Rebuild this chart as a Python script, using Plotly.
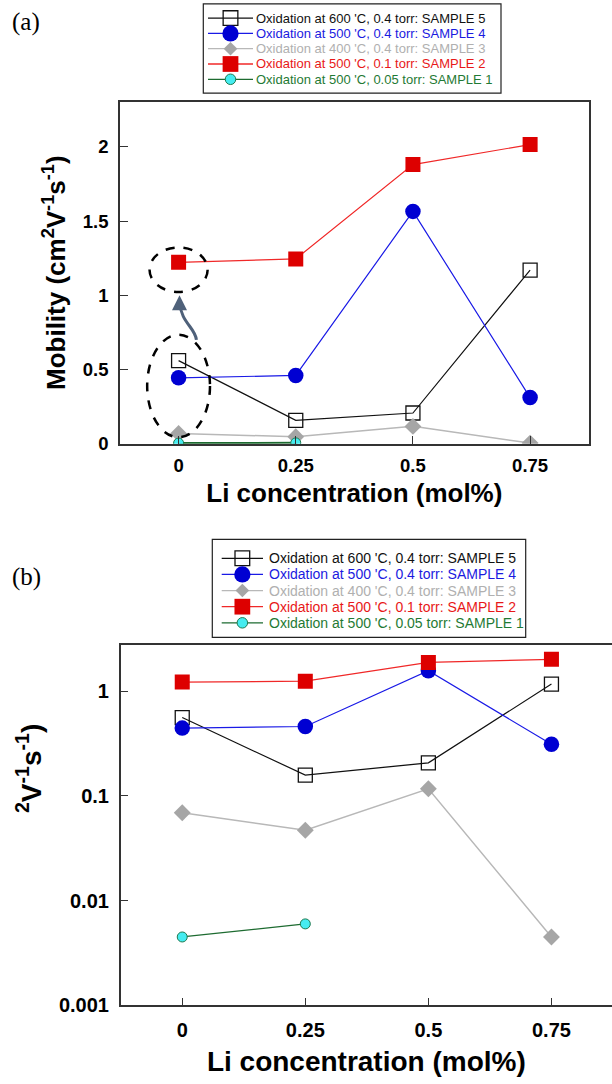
import plotly.graph_objects as go

# ---------------- data ----------------
li = [0, 0.25, 0.5, 0.75]
li_s1 = [0, 0.25]
x_ticktext = ["0", "0.25", "0.5", "0.75"]

s5 = [0.56, 0.158, 0.207, 1.17]     # 600 'C, 0.4 torr
s4 = [0.444, 0.46, 1.565, 0.311]    # 500 'C, 0.4 torr
s3 = [0.069, 0.047, 0.117, 0.0045]  # 400 'C, 0.4 torr
s2 = [1.222, 1.245, 1.88, 2.015]    # 500 'C, 0.1 torr
s1 = [0.0045, 0.006]                # 500 'C, 0.05 torr

names = [
    "Oxidation at 600 'C, 0.4 torr: SAMPLE 5",
    "Oxidation at 500 'C, 0.4 torr: SAMPLE 4",
    "Oxidation at 400 'C, 0.4 torr: SAMPLE 3",
    "Oxidation at 500 'C, 0.1 torr: SAMPLE 2",
    "Oxidation at 500 'C, 0.05 torr: SAMPLE 1",
]
ya_ticks = [0, 0.5, 1, 1.5, 2]
ya_ticktext = ["0", "0.5", "1", "1.5", "2"]
yb_ticks = [0.001, 0.01, 0.1, 1]
yb_ticktext = ["0.001", "0.01", "0.1", "1"]

text_colors = ["#111111", "#1a1ae0", "#b0b0b0", "#e81818", "#1f7a34"]
line_colors = ["#111111", "#1a1ae6", "#b8b8b8", "#f02828", "#1d6b30"]
marker_colors = ["#111111", "#0000d2", "#a6a6a6", "#dd0000", "#45ecf0"]
marker_symbols = ["square-open", "circle", "diamond", "square", "circle"]
marker_sizes = [14, 15.5, 13, 15, 10]
line_widths = [1.2, 1.2, 1.5, 1.2, 2.0]

series_x = [li, li, li, li, li_s1]
series_y = [s5, s4, s3, s2, s1]

W, H = 612, 1084
fig = go.Figure()
for panel, (xa, ya) in enumerate([("x", "y"), ("x2", "y2")]):
    for i in range(5):
        lw = line_widths[i]
        if panel == 1 and i == 4:
            lw = 1.3
        mline = dict(width=0)
        if i == 0:
            mline = dict(width=1.3, color="#111111")
        if i == 4:
            mline = dict(width=1, color="#1f7a50")
        fig.add_trace(go.Scatter(
            x=series_x[i], y=series_y[i], mode="lines+markers", name=names[i],
            line=dict(color=line_colors[i], width=lw),
            marker=dict(symbol=marker_symbols[i], size=marker_sizes[i],
                        color=marker_colors[i], line=mline),
            xaxis=xa, yaxis=ya, showlegend=False,
        ))

axis_line = dict(showline=True, linecolor="#333333", linewidth=1.5, showgrid=False,
                 zeroline=False, ticks="inside", ticklen=8, tickcolor="#333333", tickwidth=1.2)
bold = dict(family="Arial, Liberation Sans, sans-serif", color="black", weight="bold")

fig.update_layout(
    width=W, height=H, margin=dict(l=0, r=0, t=0, b=0),
    paper_bgcolor="white", plot_bgcolor="white", showlegend=False,
    font=dict(family="Arial, Liberation Sans, sans-serif", color="black"),
    xaxis=dict(domain=[120 / W, 588.7 / W], range=[-0.125, 0.875], anchor="y",
               tickvals=li, ticktext=x_ticktext, mirror=True,
               tickfont=dict(size=18.5, **bold), ticklabelstandoff=4,
               title=dict(text="Li concentration (mol%)", font=dict(size=26, **bold), standoff=9),
               **axis_line),
    yaxis=dict(domain=[1 - 448.3 / H, 1 - 102.7 / H], range=[0, 2.304], anchor="x",
               tickvals=ya_ticks, ticktext=ya_ticktext, mirror=True,
               tickfont=dict(size=18.5, **bold), ticklabelstandoff=6,
               title=dict(text="Mobility (cm<sup>2</sup>V<sup>-1</sup>s<sup>-1</sup>)",
                          font=dict(size=26, **bold), standoff=10),
               **axis_line),
    xaxis2=dict(domain=[120.7 / W, 1.0], range=[-0.125, 0.873], anchor="y2",
                tickvals=li, ticktext=x_ticktext, mirror=True,
                tickfont=dict(size=20, **bold), ticklabelstandoff=6,
                title=dict(text="Li concentration (mol%)", font=dict(size=28, **bold), standoff=11),
                **axis_line),
    yaxis2=dict(domain=[1 - 1015.7 / H, 1 - 651.7 / H], type="log", range=[-3, 0.44], anchor="x2",
                tickvals=yb_ticks, ticktext=yb_ticktext, mirror=False,
                tickfont=dict(size=20, **bold), ticklabelstandoff=6,
                **axis_line),
)


def px(x):
    return x / W


def py(y):
    return 1 - y / H


def legend_block(box, y_first, dy, lx0, lx1, tx, fsize, mscale):
    x0, x1, y0, y1 = box
    fig.add_shape(type="rect", xref="paper", yref="paper", x0=px(x0), x1=px(x1),
                  y0=py(y1), y1=py(y0), line=dict(color="#222222", width=1.2),
                  fillcolor="white", layer="above")
    mx = (lx0 + lx1) / 2
    for i in range(5):
        yy = y_first + i * dy
        fig.add_shape(type="line", xref="paper", yref="paper", x0=px(lx0), x1=px(lx1),
                      y0=py(yy), y1=py(yy), line=dict(color=line_colors[i], width=1.3),
                      layer="above")
        s = marker_sizes[i] * mscale / 2
        common = dict(xref="paper", yref="paper", xsizemode="pixel", ysizemode="pixel",
                      xanchor=px(mx), yanchor=py(yy), layer="above")
        sym = marker_symbols[i]
        if sym == "square-open":
            fig.add_shape(type="rect", x0=-s, x1=s, y0=-s, y1=s, fillcolor="rgba(0,0,0,0)",
                          line=dict(color="#111111", width=1.3), **common)
        elif sym == "square":
            fig.add_shape(type="rect", x0=-s, x1=s, y0=-s, y1=s, fillcolor=marker_colors[i],
                          line=dict(width=0), **common)
        elif sym == "diamond":
            fig.add_shape(type="path", path=f"M 0,{s} L {s},0 L 0,{-s} L {-s},0 Z",
                          fillcolor=marker_colors[i], line=dict(width=0), **common)
        else:
            ol = dict(width=0) if i != 4 else dict(width=1, color="#1f7a50")
            fig.add_shape(type="circle", x0=-s, x1=s, y0=-s, y1=s, fillcolor=marker_colors[i],
                          line=ol, **common)
        fig.add_annotation(x=px(tx), y=py(yy), xref="paper", yref="paper", showarrow=False,
                           text=names[i], xanchor="left", yanchor="middle",
                           font=dict(size=fsize, color=text_colors[i],
                                     family="Arial, Liberation Sans, sans-serif"))


legend_block((203.3, 501, 4, 94), 18.3, 15.45, 208, 253, 254, 13, 1.05)
legend_block((212.3, 525.7, 545, 644), 564, 16.3, 221.7, 263, 266.5, 14, 1.05)

# dashed ellipses and curved arrow (panel a)
fig.add_shape(type="circle", xref="x", yref="y", x0=-0.062, x1=0.062, y0=1.022, y1=1.322,
              line=dict(color="black", width=2.5, dash="dash"))
fig.add_shape(type="circle", xref="x", yref="y", x0=-0.067, x1=0.067, y0=0.044, y1=0.734,
              line=dict(color="black", width=2.5, dash="dash"))
fig.add_shape(type="path", xref="x", yref="y",
              path="M 0.038,0.70 C 0.036,0.78 0.004,0.82 0.003,0.95",
              line=dict(color="#4f617a", width=3))
fig.add_annotation(x=0.002, y=1.0, xref="x", yref="y", ax=0, ay=12, text="",
                   showarrow=True, arrowhead=2, arrowsize=1, arrowwidth=3, arrowcolor="#4f617a")

# partially visible y title of panel (b)
fig.add_annotation(x=px(29), y=py(777), xref="paper", yref="paper", showarrow=False,
                   text="<sup>2</sup>V<sup>-1</sup>s<sup>-1</sup>)", textangle=-90,
                   font=dict(size=28, **bold), xanchor="center", yanchor="middle")

# panel labels
for lab, yy in [("(a)", 22), ("(b)", 583)]:
    fig.add_annotation(x=px(26), y=py(yy), xref="paper", yref="paper", showarrow=False,
                       text=lab, font=dict(size=25, family="Liberation Serif, DejaVu Serif, serif",
                                           color="black"),
                       xanchor="center", yanchor="middle")

fig.write_html("out.html")
